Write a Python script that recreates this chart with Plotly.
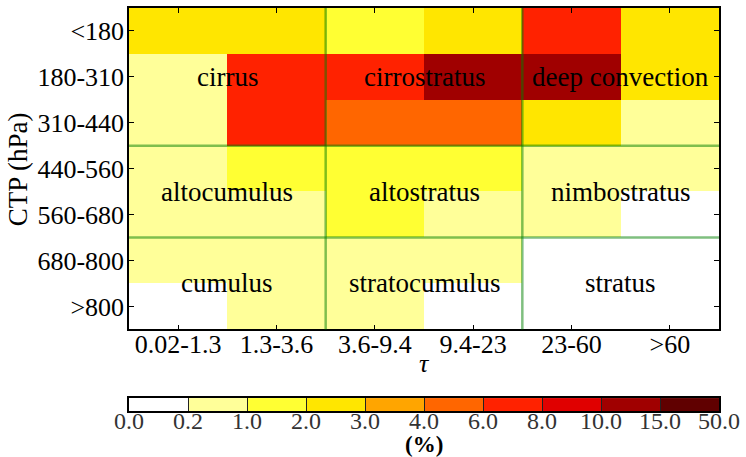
import numpy as np
import plotly.graph_objects as go

# Optical thickness (tau) bins and cloud-top-pressure bins
tau_labels = ["0.02-1.3", "1.3-3.6", "3.6-9.4", "9.4-23", "23-60", ">60"]
ctp_labels = ["<180", "180-310", "310-440", "440-560", "560-680", "680-800", ">800"]

# Cloud fraction (%) per CTP row (top to bottom) and tau column
freq = [
    [2.5, 2.5, 1.5, 2.5, 7.0, 2.5],
    [0.6, 7.0, 7.0, 12.0, 12.0, 2.5],
    [0.6, 7.0, 5.0, 5.0, 2.5, 0.6],
    [0.6, 1.5, 1.5, 1.5, 0.6, 0.6],
    [0.6, 0.6, 1.5, 0.6, 0.6, 0.1],
    [0.6, 0.6, 0.6, 0.6, 0.1, 0.1],
    [0.1, 0.6, 0.6, 0.1, 0.1, 0.1],
]

# Colour levels (%) and their fill colours
levels = [0.0, 0.2, 1.0, 2.0, 3.0, 4.0, 6.0, 8.0, 10.0, 15.0, 50.0]
level_colors = ["#ffffff", "#ffff99", "#ffff33", "#ffe600", "#ffa500",
                "#ff6600", "#ff2200", "#e00000", "#a00000", "#600000"]

# ISCCP cloud-type names placed at (tau index, CTP index)
cloud_types = ["cirrus", "cirrostratus", "deep convection",
               "altocumulus", "altostratus", "nimbostratus",
               "cumulus", "stratocumulus", "stratus"]
type_x = [0.5, 2.5, 4.5, 0.5, 2.5, 4.5, 0.5, 2.5, 4.5]
type_y = [1.0, 1.0, 1.0, 3.5, 3.5, 3.5, 5.5, 5.5, 5.5]

FONT = "Liberation Serif"
n_lev = len(level_colors)

# Discrete colour scale: one flat band per level interval
colorscale = []
for i, c in enumerate(level_colors):
    colorscale.append([i / n_lev, c])
    colorscale.append([(i + 1) / n_lev, c])

# Map percentages onto evenly spaced level indices
level_idx = np.interp(np.array(freq), levels, np.arange(len(levels)))

fig = go.Figure()
fig.add_trace(go.Heatmap(
    z=level_idx, x=list(range(len(tau_labels))), y=list(range(len(ctp_labels))),
    colorscale=colorscale, zmin=0, zmax=n_lev, showscale=False,
    xaxis="x", yaxis="y", hoverinfo="skip",
))

# Horizontal colour key drawn as its own one-row heatmap
fig.add_trace(go.Heatmap(
    z=[list(range(n_lev))], x=[i + 0.5 for i in range(n_lev)], y=[0],
    colorscale=colorscale, zmin=0, zmax=n_lev, showscale=False,
    xaxis="x2", yaxis="y2", hoverinfo="skip",
))

# Green dividers between cloud-type groups
for xv in [1.5, 3.5]:
    fig.add_shape(type="line", xref="x", yref="y domain", x0=xv, x1=xv, y0=0, y1=1,
                  line=dict(color="rgba(0,128,0,0.5)", width=2.5))
for yv in [2.5, 4.5]:
    fig.add_shape(type="line", xref="x domain", yref="y", x0=0, x1=1, y0=yv, y1=yv,
                  line=dict(color="rgba(0,128,0,0.5)", width=2.5))

for name, xv, yv in zip(cloud_types, type_x, type_y):
    fig.add_annotation(x=xv, y=yv, xref="x", yref="y", text=name, showarrow=False,
                       font=dict(family=FONT, size=27, color="black"))

# Axis titles
fig.add_annotation(x=0, y=0.6, xref="paper", yref="paper", xshift=-111, text="CTP (hPa)",
                   textangle=-90, showarrow=False, xanchor="center", yanchor="middle",
                   font=dict(family=FONT, size=27, color="black"))
fig.add_annotation(x=0.5, y=0.2025, xref="paper", yref="paper", yshift=-34,
                   xanchor="center", yanchor="middle",
                   text="<i>τ</i>", showarrow=False, font=dict(family=FONT, size=26, color="black"))
fig.add_annotation(x=0.5, y=0, xref="paper", yref="paper", yshift=-33,
                   xanchor="center", yanchor="middle",
                   text="<b>(%)</b>", showarrow=False, font=dict(family=FONT, size=23, color="black"))

axis_common = dict(showline=True, linecolor="black", linewidth=1.5, mirror="ticks",
                   ticks="inside", tickcolor="black", ticklen=5, showgrid=False,
                   zeroline=False, tickfont=dict(family=FONT, size=26, color="black"))

fig.update_layout(
    width=746, height=457,
    margin=dict(l=129, r=21, t=6, b=46),
    paper_bgcolor="white", plot_bgcolor="white",
    showlegend=False,
    xaxis=dict(domain=[0, 1], range=[-0.5, 5.5], tickvals=list(range(6)),
               ticktext=tau_labels, anchor="y", ticklabelstandoff=-9, **axis_common),
    yaxis=dict(domain=[0.2025, 1], range=[6.5, -0.5], tickvals=list(range(7)),
               ticktext=ctp_labels, anchor="x", ticklabelstandoff=-2, **axis_common),
    xaxis2=dict(domain=[0, 1], range=[0, n_lev], tickvals=list(range(len(levels))),
                ticktext=[f"{v:.1f}" for v in levels], anchor="y2",
                showline=True, linecolor="black", linewidth=1.5, mirror=True,
                ticks="inside", ticklen=13, tickcolor="#222222", tickwidth=1,
                showgrid=False, zeroline=False, ticklabelstandoff=-13,
                tickfont=dict(family=FONT, size=24, color="#333333")),
    yaxis2=dict(domain=[0, 0.0321], range=[-0.5, 0.5], showticklabels=False,
                ticks="", showline=True, linecolor="black", linewidth=1.5, mirror=True,
                showgrid=False, zeroline=False, anchor="x2"),
)

fig.write_html("out.html")
